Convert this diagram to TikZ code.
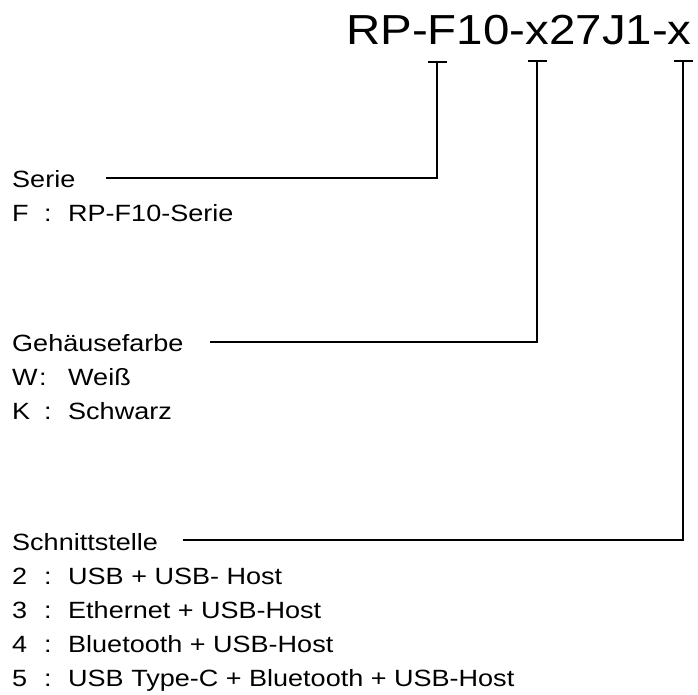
\documentclass[tikz,border=0pt]{standalone}
\usepackage{fontspec}
\setmainfont{Liberation Sans}
\newfontfamily\codefont[FakeStretch=1.13]{Liberation Sans}
\newfontfamily\lblfont[FakeStretch=1.15]{Liberation Sans}
\usetikzlibrary{positioning}
\tikzset{
    code/.style={font=\codefont\fontsize{42}{50}\selectfont, anchor=base west, inner sep=0pt},
    lbl/.style={font=\lblfont\fontsize{23.5}{28}\selectfont, anchor=base west, inner sep=0pt},
    lead/.style={line width=1.3pt},
    tick/.style={line width=1.3pt},
}
\newcommand{\optrow}[3]{\makebox[56pt][l]{\makebox[#1][l]{#2}:}#3}

\begin{document}
\begin{tikzpicture}[x=1pt, y=-1pt]
    \useasboundingbox (0,0) rectangle (698,695);
    \node[code] (code) at (346,45) {RP-F10-x27J1-x};
    % ticks under the type code
    \coordinate (tF) at (437,62);
    \coordinate (tC) at (537,61);
    \coordinate (tI) at (683,61);
    \foreach \t in {tF,tC,tI}
        \draw[tick] ([xshift=-9.5pt]\t) -- ([xshift=9.5pt]\t);
    % Serie
    \node[lbl] (serie) at (12,187) {Serie};
    \node[lbl] (serieF) at (12,221) {\optrow{32pt}{F}{RP-F10-Serie}};
    % Gehaeusefarbe
    \node[lbl] (farbe) at (12,351) {Gehäusefarbe};
    \node[lbl] (farbeW) at (12,385) {\optrow{27pt}{W}{Weiß}};
    \node[lbl] (farbeK) at (12,419) {\optrow{32pt}{K}{Schwarz}};
    % Schnittstelle
    \node[lbl] (port) at (12,550) {Schnittstelle};
    \node[lbl] (port2) at (12,584) {\optrow{32pt}{2}{USB + USB- Host}};
    \node[lbl] (port3) at (12,618) {\optrow{32pt}{3}{Ethernet + USB-Host}};
    \node[lbl] (port4) at (12,652) {\optrow{32pt}{4}{Bluetooth + USB-Host}};
    \node[lbl] (port5) at (12,686) {\optrow{32pt}{5}{USB Type-C + Bluetooth + USB-Host}};
    % leads
    \draw[lead] ([xshift=31pt,yshift=9pt]serie.base east) -| (tF);
    \draw[lead] ([xshift=26pt,yshift=9pt]farbe.base east) -| (tC);
    \draw[lead] ([xshift=25pt,yshift=10pt]port.base east) -| (tI);
\end{tikzpicture}
\end{document}
